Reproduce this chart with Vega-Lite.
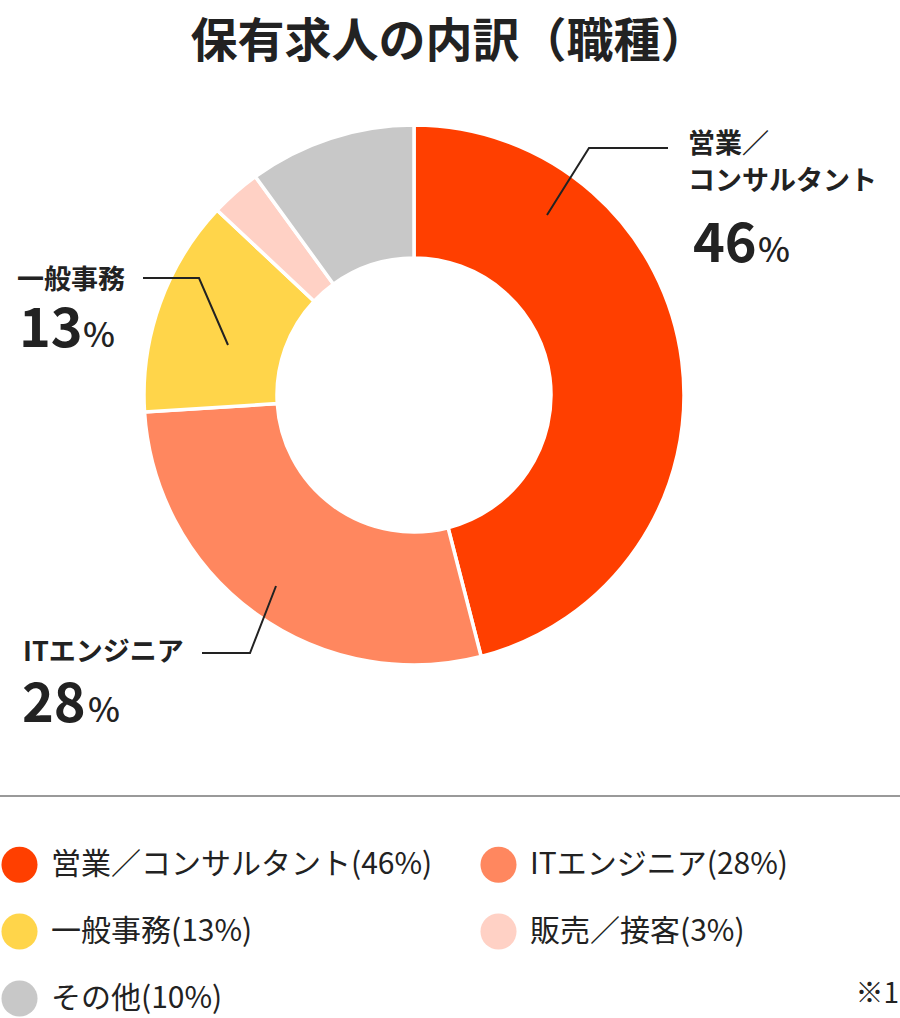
{
  "$schema": "https://vega.github.io/schema/vega-lite/v6.json",
  "width": 828,
  "height": 630,
  "autosize": {"type": "none"},
  "padding": {"left": 0, "top": 80, "right": 72, "bottom": 308},
  "background": "white",
  "title": {
    "text": "保有求人の内訳（職種）",
    "font": "Noto Sans CJK JP",
    "fontSize": 47,
    "fontWeight": "bold",
    "color": "#222222",
    "anchor": "middle",
    "frame": "group",
    "dx": 35,
    "offset": 13
  },
  "config": {
    "view": {"stroke": null},
    "font": "Noto Sans CJK JP",
    "legend": {
      "orient": "none",
      "legendX": 1,
      "legendY": 766,
      "columns": 2,
      "symbolType": "circle",
      "symbolSize": 1300,
      "symbolStrokeWidth": 0,
      "symbolOpacity": 1,
      "labelFont": "Noto Sans CJK JP",
      "labelFontSize": 30,
      "labelColor": "#222222",
      "labelOffset": 13,
      "labelLimit": 800,
      "rowPadding": 30,
      "columnPadding": 47,
      "padding": 0,
      "title": null
    }
  },
  "datasets": {
    "shares": [
      {"職種": "営業／コンサルタント", "割合": 46, "凡例": "営業／コンサルタント(46%)", "順": 1},
      {"職種": "ITエンジニア", "割合": 28, "凡例": "ITエンジニア(28%)", "順": 2},
      {"職種": "一般事務", "割合": 13, "凡例": "一般事務(13%)", "順": 3},
      {"職種": "販売／接客", "割合": 3, "凡例": "販売／接客(3%)", "順": 4},
      {"職種": "その他", "割合": 10, "凡例": "その他(10%)", "順": 5}
    ],
    "leaders": [
      {"g": "営業", "i": 0, "x": 133, "y": -180},
      {"g": "営業", "i": 1, "x": 175, "y": -247},
      {"g": "営業", "i": 2, "x": 254, "y": -247},
      {"g": "一般事務", "i": 0, "x": -186, "y": -50},
      {"g": "一般事務", "i": 1, "x": -215, "y": -117},
      {"g": "一般事務", "i": 2, "x": -271, "y": -117},
      {"g": "IT", "i": 0, "x": -138, "y": 191},
      {"g": "IT", "i": 1, "x": -164, "y": 258},
      {"g": "IT", "i": 2, "x": -212, "y": 258}
    ],
    "names": [
      {"text": "営業／", "x": 274, "y": -250},
      {"text": "コンサルタント", "x": 274, "y": -213},
      {"text": "一般事務", "x": -397, "y": -114},
      {"text": "ITエンジニア", "x": -391, "y": 258}
    ],
    "numbers": [
      {"text": "46", "x": 279, "y": -133},
      {"text": "13", "x": -395, "y": -48},
      {"text": "28", "x": -392, "y": 327}
    ],
    "percents": [
      {"text": "%", "x": 344, "y": -133},
      {"text": "%", "x": -331, "y": -48},
      {"text": "%", "x": -326, "y": 327}
    ]
  },
  "layer": [
    {
      "data": {"name": "shares"},
      "mark": {"type": "arc", "outerRadius": 270, "innerRadius": 137, "stroke": "white", "strokeWidth": 3.5},
      "encoding": {
        "theta": {"field": "割合", "type": "quantitative", "stack": true},
        "order": {"field": "順", "type": "quantitative"},
        "color": {
          "field": "凡例",
          "type": "nominal",
          "sort": null,
          "scale": {
            "domain": ["営業／コンサルタント(46%)", "一般事務(13%)", "その他(10%)", "ITエンジニア(28%)", "販売／接客(3%)"],
            "range": ["#FF3F00", "#FFD54A", "#C8C8C8", "#FF875F", "#FFD1C5"]
          }
        }
      }
    },
    {
      "data": {"name": "leaders"},
      "mark": {"type": "line", "color": "#222222", "strokeWidth": 2},
      "encoding": {
        "x": {"field": "x", "type": "quantitative", "axis": null, "scale": {"domain": [-414, 414], "nice": false, "zero": false}},
        "y": {"field": "y", "type": "quantitative", "axis": null, "scale": {"domain": [-315, 315], "nice": false, "zero": false, "reverse": true}},
        "detail": {"field": "g", "type": "nominal"},
        "order": {"field": "i", "type": "quantitative"}
      }
    },
    {
      "data": {"name": "names"},
      "mark": {"type": "text", "align": "left", "baseline": "middle", "fontSize": 27, "fontWeight": "bold", "color": "#222222", "font": "Noto Sans CJK JP"},
      "encoding": {
        "x": {"field": "x", "type": "quantitative", "axis": null, "scale": {"domain": [-414, 414], "nice": false, "zero": false}},
        "y": {"field": "y", "type": "quantitative", "axis": null, "scale": {"domain": [-315, 315], "nice": false, "zero": false, "reverse": true}},
        "text": {"field": "text"}
      }
    },
    {
      "data": {"name": "numbers"},
      "mark": {"type": "text", "align": "left", "baseline": "alphabetic", "fontSize": 54, "fontWeight": "bold", "color": "#222222", "font": "Noto Sans CJK JP"},
      "encoding": {
        "x": {"field": "x", "type": "quantitative", "axis": null, "scale": {"domain": [-414, 414], "nice": false, "zero": false}},
        "y": {"field": "y", "type": "quantitative", "axis": null, "scale": {"domain": [-315, 315], "nice": false, "zero": false, "reverse": true}},
        "text": {"field": "text"}
      }
    },
    {
      "data": {"name": "percents"},
      "mark": {"type": "text", "align": "left", "baseline": "alphabetic", "fontSize": 34, "fontWeight": 500, "color": "#222222", "font": "Noto Sans CJK JP"},
      "encoding": {
        "x": {"field": "x", "type": "quantitative", "axis": null, "scale": {"domain": [-414, 414], "nice": false, "zero": false}},
        "y": {"field": "y", "type": "quantitative", "axis": null, "scale": {"domain": [-315, 315], "nice": false, "zero": false, "reverse": true}},
        "text": {"field": "text"}
      }
    },
    {
      "data": {"values": [{}]},
      "mark": {"type": "rule", "color": "#999999", "strokeWidth": 2},
      "encoding": {
        "x": {"datum": -414, "type": "quantitative", "axis": null, "scale": {"domain": [-414, 414], "nice": false, "zero": false}},
        "x2": {"datum": 486},
        "y": {"datum": 401, "type": "quantitative", "axis": null, "scale": {"domain": [-315, 315], "nice": false, "zero": false, "reverse": true}}
      }
    },
    {
      "data": {"values": [{}]},
      "mark": {"type": "text", "align": "right", "baseline": "middle", "fontSize": 28, "color": "#222222", "font": "Noto Sans CJK JP", "text": "※1"},
      "encoding": {
        "x": {"datum": 485, "type": "quantitative", "axis": null, "scale": {"domain": [-414, 414], "nice": false, "zero": false}},
        "y": {"datum": 600, "type": "quantitative", "axis": null, "scale": {"domain": [-315, 315], "nice": false, "zero": false, "reverse": true}}
      }
    }
  ]
}
